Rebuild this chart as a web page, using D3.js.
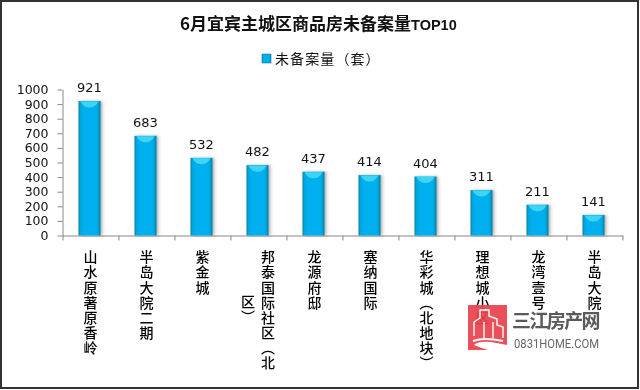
<!DOCTYPE html>
<html><head><meta charset="utf-8">
<script src="https://cdn.jsdelivr.net/npm/d3@7"></script>
<style>
html,body{margin:0;padding:0;background:#fff}
svg{display:block;filter:blur(0.35px)}
text{fill:#111}
.cjk{font-family:"Noto Sans CJK SC","Noto Sans",sans-serif}
.num{font-family:"DejaVu Sans",sans-serif}
</style></head><body>
<svg id="c" width="640" height="390"></svg>
<script>
const chartTitle = "6月宜宾主城区商品房未备案量";
const titleSuffix = "TOP10";
const seriesName = "未备案量（套）";
const categories = [
  ["山水原著原香岭"],["半岛大院二期"],["紫金城"],["邦泰国际社区（北","区）"],["龙源府邸"],
  ["塞纳国际"],["华彩城（北地块）"],["理想城小区"],["龙湾壹号"],["半岛大院"]
];
const values = [921,683,532,482,437,414,404,311,211,141];
const yTicks = [0,100,200,300,400,500,600,700,800,900,1000];

const svg = d3.select("#c");
const defs = svg.append("defs");
const g = defs.append("linearGradient").attr("id","barFill");
[[0,"#0a7ea4"],[0.08,"#04a4d8"],[0.2,"#00b0ee"],[0.8,"#00b0ee"],[0.92,"#04a0d2"],[1,"#0a6f90"]]
  .forEach(s=>g.append("stop").attr("offset",s[0]).attr("stop-color",s[1]));
defs.append("filter").attr("id","sh").attr("x","-30%").attr("width","170%")
  .append("feDropShadow").attr("dx",2).attr("dy",0).attr("stdDeviation",1.6)
  .attr("flood-color","#000").attr("flood-opacity",0.28);

// frame
svg.append("rect").attr("x",1).attr("y",1).attr("width",637).attr("height",387)
  .attr("fill","#fff").attr("stroke","#333").attr("stroke-width",2);

const x = d3.scaleBand().domain(d3.range(categories.length)).range([62.5,622.5]).paddingInner(0.607).paddingOuter(0.3035);
const y = d3.scaleLinear().domain([0,1000]).range([235.5,89.5]);

// title
const t = svg.append("text").attr("class","cjk").attr("x",180).attr("y",30)
  .attr("font-size",17).attr("font-weight",700);
t.append("tspan").text(chartTitle);
t.append("tspan").attr("font-family","'Liberation Sans',sans-serif").attr("font-size",14.5).text(titleSuffix);

// legend
const lg = svg.append("g");
lg.append("rect").attr("x",262).attr("y",54).attr("width",9).attr("height",9).attr("fill","url(#barFill)").attr("stroke","#0a7fa8").attr("stroke-width",.6);
lg.append("text").attr("class","cjk").attr("x",275).attr("y",64).attr("font-size",14).attr("letter-spacing",1.1).text(seriesName);

// y axis
const ya = svg.append("g").attr("transform","translate(62.5,0)")
  .call(d3.axisLeft(y).tickValues(yTicks).tickFormat(d3.format("d")).tickSize(5).tickPadding(9).tickSizeOuter(0));
ya.selectAll("path,line").attr("stroke","#888");
ya.selectAll("text").attr("class","num").attr("font-size",12.5).attr("fill","#111").attr("font-family","DejaVu Sans");

// x axis
const edges = d3.range(categories.length+1);
const xe = d3.scaleLinear().domain([0,categories.length]).range([62.5,622.5]);
const xa = svg.append("g").attr("transform","translate(0,235.5)")
  .call(d3.axisBottom(xe).tickValues(edges).tickSize(5).tickFormat("").tickSizeOuter(0));
xa.selectAll("path,line").attr("stroke","#888");

// bars
const bars = svg.append("g").selectAll("g").data(values).join("g");
bars.append("rect").attr("x",(d,i)=>x(i)-1).attr("y",d=>y(d)).attr("width",x.bandwidth())
  .attr("height",d=>y(0)-y(d)).attr("fill","url(#barFill)").attr("filter","url(#sh)");
bars.append("path").attr("fill","#3fd4f4")
  .attr("d",(d,i)=>{const l=x(i)+1,r=l+x.bandwidth()-4,tp=y(d)+0.5;
    return `M${l},${tp}L${r},${tp}Q${r-3},${tp+6} ${(l+r)/2},${tp+6}Q${l+3},${tp+6} ${l},${tp}Z`;});
bars.append("text").attr("class","num").attr("font-size",13).attr("text-anchor","middle")
  .attr("x",(d,i)=>x(i)+x.bandwidth()/2-1).attr("y",d=>y(d)-9).text(d=>d);

// category labels (vertical)
const charH = 15, labelTop = 250;
const labels = svg.append("g").selectAll("g").data(categories).join("g");
labels.each(function(lines,i){
  const maxLen = d3.max(lines,s=>s.length);
  const cx = x(i)+x.bandwidth()/2 + (lines.length-1)*9.5;
  lines.forEach((s,k)=>{
    d3.select(this).append("text").attr("class","cjk")
      .attr("x",cx-k*20).attr("y",labelTop+(maxLen-s.length)*charH/2)
      .attr("font-size",14).attr("font-weight",500).attr("letter-spacing",1.1)
      .style("fill","#000").style("writing-mode","vertical-rl").text(s);
  });
});

// watermark
const wm = svg.append("g");
wm.append("path").attr("fill","#e8434c").attr("opacity",0.93)
  .attr("d","M468,305H507V345L491,342Q478,341 474,345Q481,348 488,350H468Z");
wm.append("path").attr("fill","none").attr("stroke","#fff").attr("stroke-width",1.4)
  .attr("d","M474,336V322L480,318V310H489V316L497,319V325L503,327V338M484,338V322M493,322V338");
wm.append("path").attr("fill","none").attr("stroke","#fff").attr("stroke-width",2.2)
  .attr("d","M473,341Q484,337 503,341");
wm.append("text").attr("class","cjk").attr("x",512).attr("y",328).attr("font-size",19).attr("font-weight",700)
  .attr("letter-spacing",-1.6).style("fill","#5a5a5a").text("三江房产网");
wm.append("text").attr("x",514).attr("y",347.5).attr("font-family","Roboto,sans-serif").attr("font-size",13.5)
  .attr("textLength",85).attr("lengthAdjust","spacingAndGlyphs").style("fill","#666").text("0831HOME.COM");
</script>
</body></html>
